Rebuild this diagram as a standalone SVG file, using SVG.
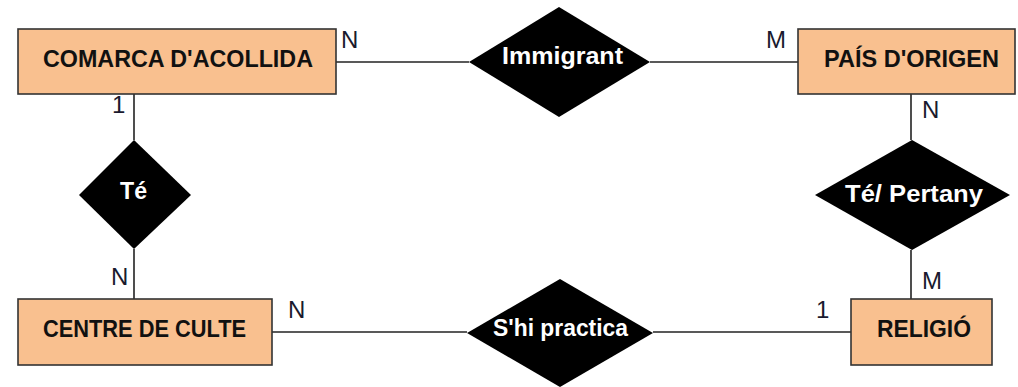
<svg xmlns="http://www.w3.org/2000/svg" width="1018" height="387" viewBox="0 0 1018 387">
<style>
.ent{fill:#F9C08F;stroke:#333;stroke-width:1.6}
.rel{fill:#000}
.et{font-family:"Liberation Sans",Arial,sans-serif;font-weight:bold;font-size:24px;fill:#111;text-anchor:middle}
.rt{font-family:"Liberation Sans",Arial,sans-serif;font-weight:bold;font-size:24px;fill:#fff;text-anchor:middle}
.card{font-family:"Liberation Sans",Arial,sans-serif;font-size:24px;fill:#1a1a2e}
.conn line{stroke:#222;stroke-width:1.6}
</style>
<rect width="1018" height="387" fill="#fff"/>
<g id="connectors" class="conn">
<line x1="336" y1="62" x2="469" y2="62"/>
<line x1="650" y1="62" x2="798" y2="62"/>
<line x1="134" y1="94" x2="134" y2="140"/>
<line x1="134" y1="249" x2="134" y2="299"/>
<line x1="911" y1="94" x2="911" y2="140"/>
<line x1="911" y1="250" x2="911" y2="299"/>
<line x1="272" y1="332" x2="467" y2="332"/>
<line x1="653" y1="332" x2="851" y2="332"/>
</g>
<g id="comarca">
<rect class="ent" x="18" y="29" width="318" height="65"/>
<text class="et" x="178" y="67" textLength="270" lengthAdjust="spacingAndGlyphs">COMARCA D'ACOLLIDA</text>
</g>
<g id="pais">
<rect class="ent" x="798" y="29" width="217" height="65"/>
<text class="et" x="911.5" y="67" textLength="175" lengthAdjust="spacingAndGlyphs">PAÍS D'ORIGEN</text>
</g>
<g id="centre">
<rect class="ent" x="18" y="299" width="254" height="66"/>
<text class="et" x="144.5" y="337" textLength="203" lengthAdjust="spacingAndGlyphs">CENTRE DE CULTE</text>
</g>
<g id="religio">
<rect class="ent" x="851" y="299" width="141" height="66"/>
<text class="et" x="924" y="337" textLength="94" lengthAdjust="spacingAndGlyphs">RELIGIÓ</text>
</g>
<g id="immigrant">
<polygon class="rel" points="559,7 650,62 559,117 469,62"/>
<text class="rt" x="562.5" y="64" textLength="121" lengthAdjust="spacingAndGlyphs">Immigrant</text>
</g>
<g id="te">
<polygon class="rel" points="134,140 191,195 134,249 79,195"/>
<text class="rt" x="133.5" y="199" textLength="27" lengthAdjust="spacingAndGlyphs">Té</text>
</g>
<g id="te-pertany">
<polygon class="rel" points="912,140 1010,195 912,250 815,195"/>
<text class="rt" x="914" y="202" textLength="138" lengthAdjust="spacingAndGlyphs">Té/ Pertany</text>
</g>
<g id="shi-practica">
<polygon class="rel" points="560,279 653,333 560,387 467,333"/>
<text class="rt" x="560.5" y="336" textLength="135" lengthAdjust="spacingAndGlyphs">S'hi practica</text>
</g>
<g id="cardinalities">
<text class="card" x="341" y="48">N</text>
<text class="card" x="766" y="48">M</text>
<text class="card" x="112" y="113">1</text>
<text class="card" x="922" y="118">N</text>
<text class="card" x="111" y="285">N</text>
<text class="card" x="288" y="318">N</text>
<text class="card" x="922" y="289">M</text>
<text class="card" x="816" y="318">1</text>
</g>
</svg>
